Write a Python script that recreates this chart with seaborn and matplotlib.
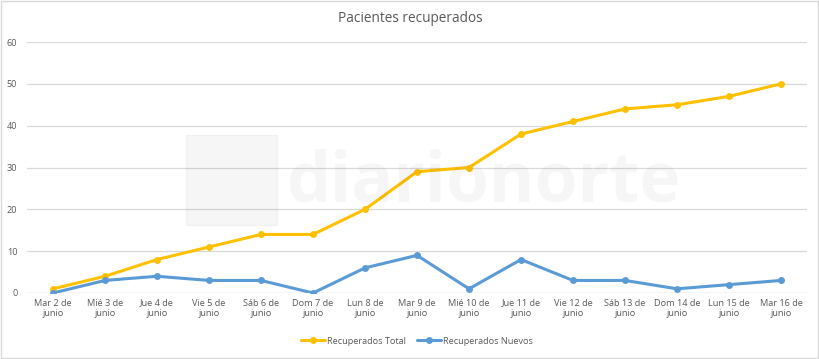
import matplotlib
matplotlib.use("Agg")
import matplotlib.pyplot as plt
import seaborn as sns
import pandas as pd

fechas = ["Mar 2 de\njunio", "Mié 3 de\njunio", "Jue 4 de\njunio", "Vie 5 de\njunio",
          "Sáb 6 de\njunio", "Dom 7 de\njunio", "Lun 8 de\njunio", "Mar 9 de\njunio",
          "Mié 10 de\njunio", "Jue 11 de\njunio", "Vie 12 de\njunio", "Sáb 13 de\njunio",
          "Dom 14 de\njunio", "Lun 15 de\njunio", "Mar 16 de\njunio"]
recuperados_total = [1, 4, 8, 11, 14, 14, 20, 29, 30, 38, 41, 44, 45, 47, 50]
recuperados_nuevos = [0, 3, 4, 3, 3, 0, 6, 9, 1, 8, 3, 3, 1, 2, 3]
y_ticks = [0, 10, 20, 30, 40, 50, 60]

df = pd.DataFrame({
    "x": list(range(len(fechas))) * 2,
    "valor": recuperados_total + recuperados_nuevos,
    "serie": ["Recuperados Total"] * len(fechas) + ["Recuperados Nuevos"] * len(fechas),
})

sns.set_style("white")
plt.rcParams["font.family"] = ["Open Sans", "DejaVu Sans"]
texto = "#595959"

fig = plt.figure(figsize=(8.2, 3.59), dpi=100)
ax = fig.add_axes([27 / 820, 1 - 293 / 359, 780 / 820, 251 / 359])

sns.lineplot(data=df, x="x", y="valor", hue="serie",
             palette={"Recuperados Total": "#FFC000", "Recuperados Nuevos": "#5B9BD5"},
             marker="o", markersize=5, markeredgewidth=0, linewidth=2.2, ax=ax, legend=True)

ax.set_xlim(-0.5, len(fechas) - 0.5)
ax.set_ylim(0, 60)
ax.set_yticks(y_ticks)
ax.set_xticks(range(len(fechas)))
ax.set_xticklabels(fechas, fontsize=6.6, color=texto, linespacing=1.15)
ax.set_yticklabels([str(v) for v in y_ticks], fontsize=6.6, color=texto)
ax.tick_params(axis="both", length=0, pad=4)
ax.tick_params(axis="y", pad=7)
ax.grid(axis="y", color="#D9D9D9", linewidth=0.9)
ax.set_axisbelow(True)
for s in ax.spines.values():
    s.set_visible(False)
ax.axhline(0, color="#D9D9D9", linewidth=0.9, zorder=0)
ax.set_xlabel("")
ax.set_ylabel("")

# marca de agua
fig.text(0.35, 0.49, "diarionorte", fontsize=50, color="#000000", alpha=0.035,
         ha="left", va="center", fontweight="bold", fontstretch="condensed")
fig.patches.append(plt.Rectangle((186 / 820, 1 - 225 / 359), 91 / 820, 90 / 359,
                                 transform=fig.transFigure, color="#000000", alpha=0.035))

fig.text(0.5, 1 - 19 / 359, "Pacientes recuperados", ha="center", va="center",
         fontsize=9.8, color=texto)

leg = ax.legend(loc="center", bbox_to_anchor=(0.5, (293 - 341) / 251), ncol=2, frameon=False,
                fontsize=6.6, handlelength=2.6, columnspacing=1.2, handletextpad=0.2)
for t in leg.get_texts():
    t.set_color(texto)

fig.patches.append(plt.Rectangle((0.001, 0.002), 0.997, 0.995, transform=fig.transFigure,
                                 fill=False, edgecolor="#D9D9D9", linewidth=1))

fig.savefig("out.png", dpi=100)
